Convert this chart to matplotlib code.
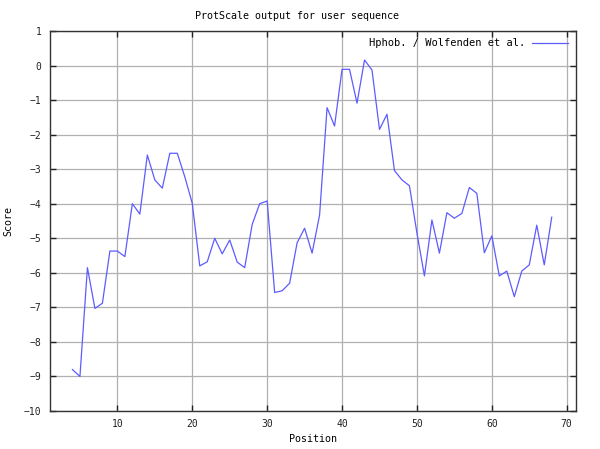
import numpy as np
import matplotlib
matplotlib.use('Agg')
import matplotlib.pyplot as plt

# Window positions and hydrophobicity scores
position = np.arange(4, 69)
score = [-8.8, -9.0, -5.85, -7.03, -6.88, -5.37, -5.37, -5.53, -4.0, -4.3,
         -2.59, -3.31, -3.55, -2.54, -2.54, -3.22, -3.99, -5.8, -5.68, -5.0,
         -5.45, -5.05, -5.69, -5.85, -4.6, -4.0, -3.92, -6.57, -6.52, -6.3,
         -5.13, -4.71, -5.43, -4.33, -1.22, -1.75, -0.11, -0.11, -1.09, 0.16,
         -0.13, -1.85, -1.41, -3.04, -3.31, -3.48, -4.85, -6.09, -4.47, -5.43,
         -4.26, -4.42, -4.28, -3.53, -3.7, -5.42, -4.93, -6.09, -5.95, -6.69,
         -5.95, -5.77, -4.62, -5.77, -4.39]

xticks = [10, 20, 30, 40, 50, 60, 70]
yticks = list(range(-10, 2))

mono = 'DejaVu Sans Mono'

fig = plt.figure(figsize=(6, 4.49), dpi=100)
ax = fig.add_axes([0.0833, 0.0846, 0.8762, 0.8464])

ax.plot(position, score, color='#5c5cff', lw=0.9, label='Hphob. / Wolfenden et al.')

ax.set_xlim(1, 71.2)
ax.set_ylim(-10, 1)
ax.set_xticks(xticks)
ax.set_yticks(yticks)
ax.grid(True, color='#b0b0b0', lw=0.9)
ax.tick_params(direction='in', length=4, width=1, top=True, right=True,
               labelsize=7, colors='#222222', pad=6)
for lbl in ax.get_xticklabels() + ax.get_yticklabels():
    lbl.set_family(mono)
for s in ax.spines.values():
    s.set_color('#333333')
    s.set_linewidth(1)

fig.text(0.495, 0.965, 'ProtScale output for user sequence', fontsize=7.2,
         family=mono, ha='center', va='center')
ax.set_xlabel('Position', fontsize=7.2, family=mono, labelpad=3)
ax.set_ylabel('Score', fontsize=7.2, family=mono, labelpad=8)

leg = ax.legend(loc='upper right', frameon=False, markerfirst=False,
                prop={'family': mono, 'size': 7.5}, handlelength=3.5,
                borderaxespad=0.3, handletextpad=0.6)

fig.savefig('out.png', dpi=100)
